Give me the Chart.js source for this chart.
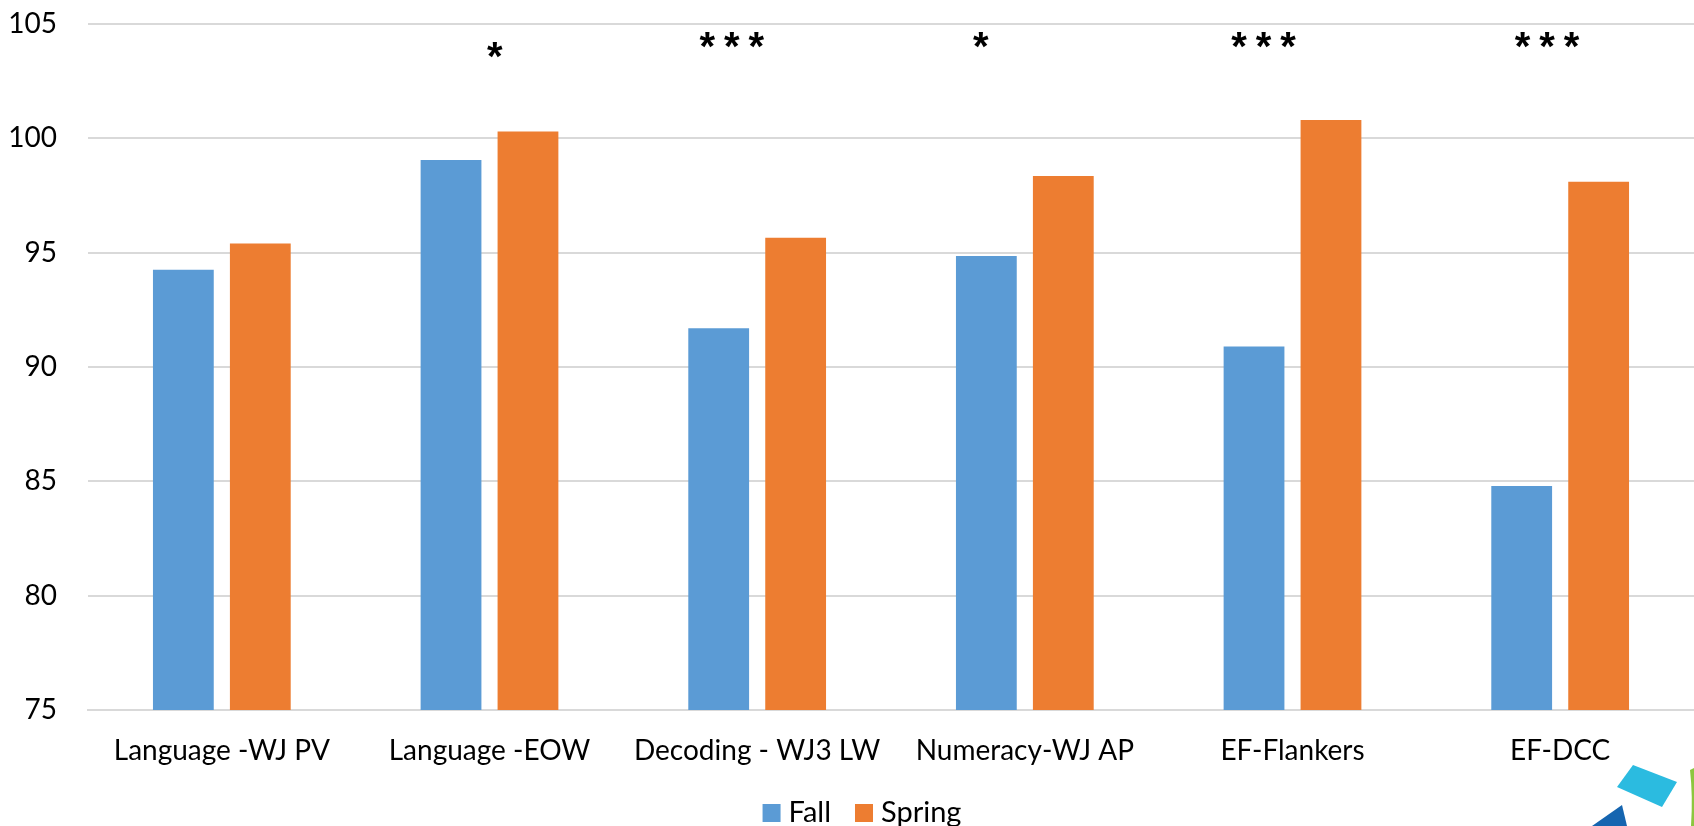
<!DOCTYPE html>
<html>
<head>
<meta charset="utf-8">
<script src="https://cdn.jsdelivr.net/npm/chart.js@4.4.1/dist/chart.umd.min.js"></script>
<style>
  html, body { margin: 0; padding: 0; background: #ffffff; }
  #wrap { width: 1694px; height: 826px; position: relative; }
</style>
</head>
<body>
<div id="wrap"><canvas id="chart"></canvas></div>
<script>
// Assessment domains and mean standard scores per term
const categories = ['Language -WJ PV', 'Language -EOW', 'Decoding - WJ3 LW', 'Numeracy-WJ AP', 'EF-Flankers', 'EF-DCC'];
const fallScores = [94.25, 99.05, 91.7, 94.85, 90.9, 84.8];
const springScores = [95.4, 100.3, 95.65, 98.35, 100.8, 98.1];
// Significance of the fall-to-spring change
const significance = ['', '*', '***', '*', '***', '***'];
const yTicks = [75, 80, 85, 90, 95, 100, 105];

const FONT = 'Lato';

// Where each significance marker sits: offset in category widths, height in score units
const markerPlacement = [
  { dx: 0, y: 104.3 },
  { dx: 0.02, y: 103.86 },
  { dx: -0.095, y: 104.3 },
  { dx: -0.165, y: 104.3 },
  { dx: -0.108, y: 104.3 },
  { dx: -0.049, y: 104.3 }
];

const markerPlugin = {
  id: 'markers',
  afterDatasetsDraw(chart) {
    const ctx = chart.ctx;
    const x = chart.scales.x, y = chart.scales.y;
    const catW = (chart.chartArea.right - chart.chartArea.left) / categories.length;
    ctx.save();
    ctx.fillStyle = '#000000';
    ctx.font = 'bold 40px "Liberation Sans"';
    ctx.textAlign = 'center';
    ctx.textBaseline = 'alphabetic';
    const m = ctx.measureText('*');
    const midOff = (m.actualBoundingBoxAscent - m.actualBoundingBoxDescent) / 2;
    significance.forEach((s, i) => {
      if (!s) return;
      const p = markerPlacement[i];
      const cx = x.getPixelForValue(i) + p.dx * catW;
      const cy = y.getPixelForValue(p.y);
      const pitch = 24.5;
      for (let k = 0; k < s.length; k++) {
        const sx = cx + (k - (s.length - 1) / 2) * pitch;
        ctx.fillText('*', sx, cy + midOff);
      }
    });
    ctx.restore();
  },
  afterDraw(chart) {
    const ctx = chart.ctx;
    const W = chart.width, H = chart.height;

    // legend row, built from the datasets
    ctx.save();
    ctx.font = '29px ' + FONT;
    ctx.textBaseline = 'middle';
    ctx.textAlign = 'left';
    const box = 18, boxGap = 8, itemGap = 24;
    const items = chart.data.datasets.map(ds => ({ label: ds.label, color: ds.backgroundColor,
      w: box + boxGap + ctx.measureText(ds.label).width }));
    const total = items.reduce((a, it) => a + it.w, 0) + itemGap * (items.length - 1);
    let lx = W / 2 + 15 - total / 2;
    const ly = H - 13;
    items.forEach(it => {
      ctx.fillStyle = it.color;
      ctx.fillRect(lx, ly - box / 2, box, box);
      ctx.fillStyle = '#000000';
      ctx.fillText(it.label, lx + box + boxGap, ly);
      lx += it.w + itemGap;
    });
    ctx.restore();

    // corner emblem
    ctx.save();
    ctx.fillStyle = '#2bbbe0';
    ctx.beginPath();
    ctx.moveTo(W - 61, H - 61);
    ctx.lineTo(W - 17, H - 44);
    ctx.lineTo(W - 32, H - 19);
    ctx.lineTo(W - 77, H - 39);
    ctx.closePath();
    ctx.fill();
    ctx.fillStyle = '#1565b0';
    ctx.beginPath();
    ctx.moveTo(W - 72, H - 21);
    ctx.lineTo(W - 67, H);
    ctx.lineTo(W - 102, H);
    ctx.closePath();
    ctx.fill();
    ctx.fillStyle = '#8cc63f';
    ctx.beginPath();
    ctx.moveTo(W - 4, H - 56);
    ctx.quadraticCurveTo(W - 1, H - 30, W - 3, H);
    ctx.lineTo(W, H);
    ctx.lineTo(W, H - 58);
    ctx.closePath();
    ctx.fill();
    ctx.restore();
  }
};

new Chart(document.getElementById('chart'), {
  type: 'bar',
  data: {
    labels: categories,
    datasets: [
      { label: 'Fall', data: fallScores, backgroundColor: '#5b9bd5',
        categoryPercentage: 0.575, barPercentage: 0.79 },
      { label: 'Spring', data: springScores, backgroundColor: '#ed7d31',
        categoryPercentage: 0.575, barPercentage: 0.79 }
    ]
  },
  options: {
    responsive: true,
    maintainAspectRatio: false,
    animation: false,
    layout: { padding: { top: 24, right: 0, bottom: 40, left: 0 } },
    plugins: {
      tooltip: { enabled: false },
      legend: { display: false }
    },
    scales: {
      x: {
        grid: { display: false, drawTicks: false },
        border: { display: true, color: '#d9d9d9', width: 2 },
        ticks: { color: '#000000', padding: 24, maxRotation: 0, autoSkip: false,
                 font: { family: FONT, size: 28 } },
        afterFit(scale) { scale.height = 76; scale.paddingLeft = 0; scale.paddingRight = 0; }
      },
      y: {
        min: 75, max: 105,
        afterBuildTicks(scale) { scale.ticks = yTicks.map(v => ({ value: v })); },
        grid: { color: '#d9d9d9', lineWidth: 2, drawTicks: false },
        border: { display: false },
        ticks: { color: '#000000', padding: 31, font: { family: FONT, size: 28 } },
        afterFit(scale) { scale.width = 88; scale.paddingTop = 0; scale.paddingBottom = 0; }
      }
    }
  },
  plugins: [markerPlugin]
});
</script>
</body>
</html>
